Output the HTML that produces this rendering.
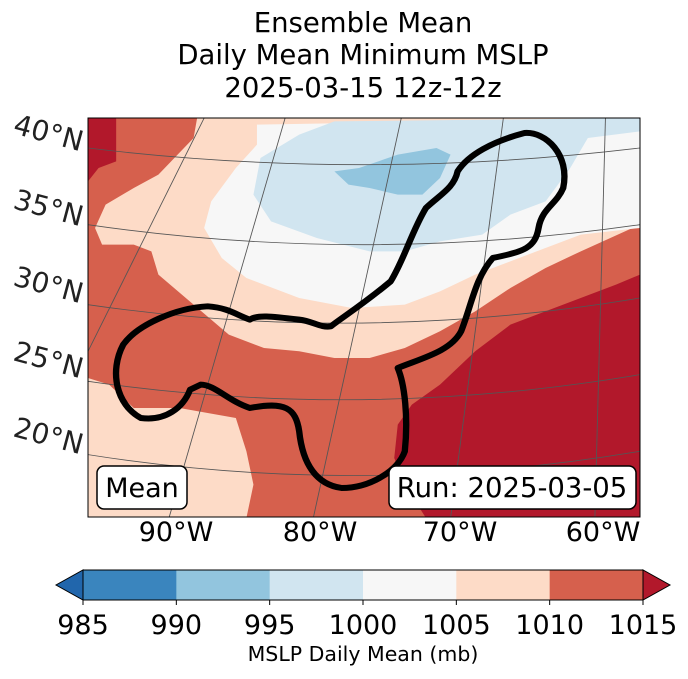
<!DOCTYPE html>
<html><head><meta charset="utf-8"><style>
body{margin:0;background:#fff;font-family:"Liberation Sans","DejaVu Sans",sans-serif}
svg text{font-family:"DejaVu Sans","Liberation Sans",sans-serif}
</style></head><body>
<svg width="688" height="674" xmlns="http://www.w3.org/2000/svg">
<g font-size="27.5" text-anchor="middle" fill="#000">
<text x="363" y="32">Ensemble Mean</text>
<text x="363" y="64">Daily Mean Minimum MSLP</text>
<text x="363" y="97">2025-03-15 12z-12z</text>
</g>
<clipPath id="mc"><rect x="88" y="118" width="552" height="399"/></clipPath>
<g clip-path="url(#mc)">
<g transform="translate(88,118) scale(0.352,0.3333)">
<rect x="0" y="0" width="1568" height="1200" fill="#d6604d"/>
<polygon fill="#fddbc7" points="310,0 1568,0 1568,320 1400,400 1300,450 1200,510 1100,580 1000,640 900,690 800,720 700,720 600,700 500,690 400,650 300,560 200,470 180,400 130,380 40,380 20,330 50,260 130,210 200,170 300,60"/>
<polygon fill="#fddbc7" points="0,780 60,800 130,870 260,870 420,900 450,1000 470,1100 450,1200 0,1200"/>
<polygon fill="#f7f7f7" points="480,20 1568,0 1568,330 1400,350 1250,410 1100,470 1000,520 900,560 750,570 600,540 450,480 380,420 330,330 350,250 420,150 480,80"/>
<polygon fill="#d1e5f0" points="470,230 490,120 600,50 700,10 1568,0 1568,40 1420,60 1370,150 1300,250 1200,290 1120,350 1000,370 900,400 800,400 650,360 520,310"/>
<polygon fill="#92c5de" points="700,160 770,150 880,110 990,90 1030,110 1000,180 950,230 880,230 800,210 740,200"/>
<polygon fill="#b2182b" points="1568,470 1500,500 1350,560 1200,620 1100,700 1000,800 920,860 880,920 870,1020 900,1100 960,1200 1568,1200"/>
<polygon fill="#b2182b" points="0,0 80,0 80,130 30,150 0,190"/>
<g fill="none" stroke="#555" stroke-width="2.5">
<path d="M0,90 Q780,190 1568,90"/>
<path d="M0,320 Q780,440 1568,320"/>
<path d="M0,560 Q780,680 1568,540"/>
<path d="M0,790 Q780,910 1568,770"/>
<path d="M0,1010 Q780,1140 1568,1000"/>
<path d="M230,1200 L560,0"/><path d="M640,1200 L890,0"/><path d="M1030,1200 L1180,0"/><path d="M1440,1200 L1470,0"/><path d="M0,700 L330,0"/>
</g>
<path fill="none" stroke="#000" stroke-width="18" stroke-linejoin="round" d="M1240,45 C1300,40 1370,110 1350,210 C1330,260 1290,270 1280,330 C1270,390 1240,400 1150,420 C1100,480 1090,560 1060,640 C1030,700 950,720 880,750 C900,800 910,900 900,1000 C880,1060 800,1110 720,1110 C650,1100 610,1040 600,940 C590,870 560,850 460,870 C400,850 360,800 320,800 L290,815 C270,870 220,910 150,900 C80,860 60,760 100,680 C140,620 250,570 340,565 C400,570 420,590 460,605 C480,590 520,595 600,605 C640,610 660,630 690,625 C720,600 780,560 860,490 C900,420 920,340 960,270 C1000,230 1040,210 1050,160 C1080,110 1150,70 1240,45 Z"/>
</g>
</g>
<rect x="88" y="118" width="552" height="399" fill="none" stroke="#000" stroke-width="1"/>
<g>
<rect x="97" y="466" width="90" height="43" rx="7" fill="#fff" stroke="#000" stroke-width="1.5"/>
<text x="142" y="497" font-size="27" text-anchor="middle">Mean</text>
</g>
<g>
<rect x="389" y="466" width="247" height="43" rx="7" fill="#fff" stroke="#000" stroke-width="1.5"/>
<text x="512" y="497" font-size="27.5" text-anchor="middle">Run: 2025-03-05</text>
</g>
<g font-size="28" fill="#222">
<text transform="translate(12,133) rotate(15)">40°N</text>
<text transform="translate(12,208) rotate(15)">35°N</text>
<text transform="translate(12,285) rotate(15)">30°N</text>
<text transform="translate(12,360) rotate(15)">25°N</text>
<text transform="translate(12,436) rotate(15)">20°N</text>
</g>
<g font-size="27" fill="#000" text-anchor="middle">
<text x="176" y="541">90°W</text><text x="320" y="541">80°W</text><text x="460" y="541">70°W</text><text x="603" y="541">60°W</text>
</g>
<g id="cbar"></g>
<text x="363" y="661" font-size="20.5" text-anchor="middle">MSLP Daily Mean (mb)</text>
</svg>
<script>
const levels=[985,990,995,1000,1005,1010,1015];
const binColors=["#3a85be","#92c5de","#d1e5f0","#f7f7f7","#fddbc7","#d6604d"];
const underColor="#2166ac", overColor="#b2182b";
const ns="http://www.w3.org/2000/svg";
const g=document.getElementById('cbar');
const x0=83,x1=643,y0=570,y1=600;
const sx=v=>x0+(v-levels[0])/(levels[levels.length-1]-levels[0])*(x1-x0);
function mk(t,a){const e=document.createElementNS(ns,t);for(const k in a)e.setAttribute(k,a[k]);g.appendChild(e);return e;}
for(let i=0;i<binColors.length;i++){
 const r=mk('rect',{x:sx(levels[i]),y:y0,width:sx(levels[i+1])-sx(levels[i])+0.5,height:y1-y0,fill:binColors[i]});
 
 
}
const tl=mk('polygon',{points:`${x0},${y0} ${x0},${y1} 56,${(y0+y1)/2}`,fill:underColor,stroke:'#000','stroke-width':1});


const tr=mk('polygon',{points:`${x1},${y0} ${x1},${y1} 670,${(y0+y1)/2}`,fill:overColor,stroke:'#000','stroke-width':1});


mk('rect',{x:x0,y:y0,width:x1-x0,height:y1-y0,fill:'none',stroke:'#000','stroke-width':1});
levels.forEach(v=>{
 mk('line',{x1:sx(v),x2:sx(v),y1:y1,y2:y1+5,stroke:'#000'});
 const t=mk('text',{x:sx(v),y:634,'font-size':27,'text-anchor':'middle'});
 t.textContent=v;
 
 
});
</script>
</body></html>
